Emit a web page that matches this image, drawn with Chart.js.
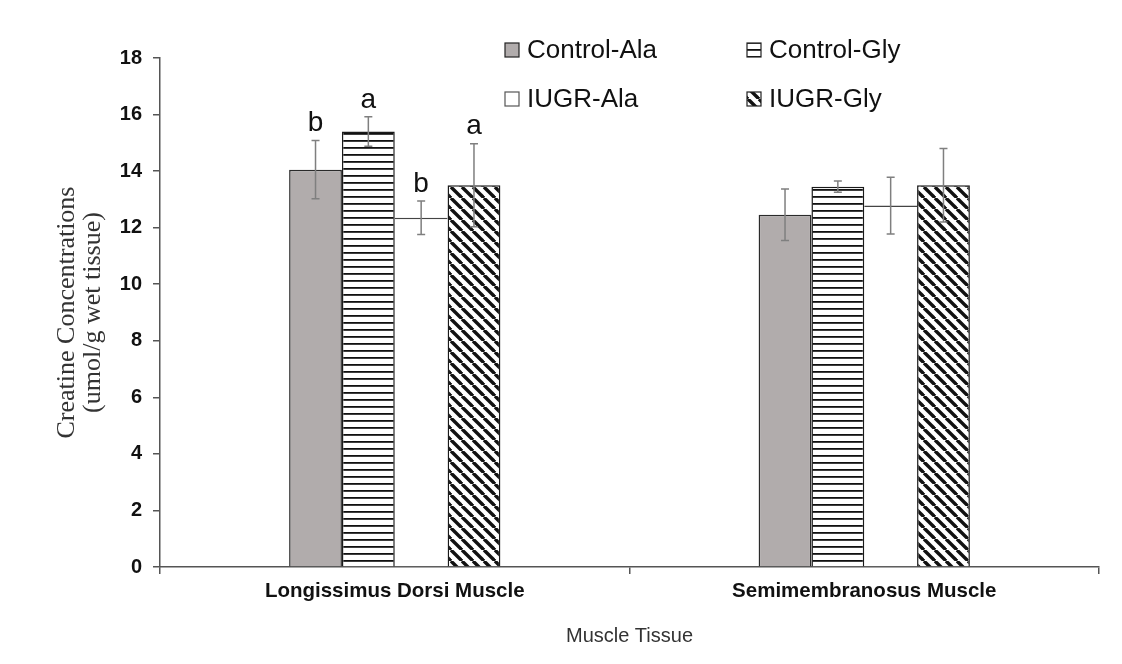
<!DOCTYPE html>
<html>
<head>
<meta charset="utf-8">
<script src="https://cdn.jsdelivr.net/npm/chart.js@4.4.0/dist/chart.umd.min.js"></script>
<style>
  body { margin: 0; background: #fff; }
  canvas { display: block; }
</style>
</head>
<body>
<canvas id="myChart" width="1122" height="664"></canvas>
<script>
const categories = ['Longissimus Dorsi Muscle', 'Semimembranosus Muscle'];
const seriesNames = ['Control-Ala', 'Control-Gly', 'IUGR-Ala', 'IUGR-Gly'];

const controlAla = [14.05, 12.46];
const controlGly = [15.40, 13.45];
const iugrAla = [12.35, 12.78];
const iugrGly = [13.50, 13.50];

const controlAlaErr = [1.03, 0.91];
const controlGlyErr = [0.52, 0.20];
const iugrAlaErr = [0.59, 1.00];
const iugrGlyErr = [1.47, 1.30];

// significance letters, only on the first muscle
const controlAlaLetters = ['b', ''];
const controlGlyLetters = ['a', ''];
const iugrAlaLetters = ['b', ''];
const iugrGlyLetters = ['a', ''];

const yMin = 0;
const yMax = 18;
const yStep = 2;

const canvas = document.getElementById('myChart');
const ctx = canvas.getContext('2d');

function hStripes() {
  const c = document.createElement('canvas');
  c.width = 8; c.height = 7;
  const g = c.getContext('2d');
  g.fillStyle = '#fff';
  g.fillRect(0, 0, 8, 7);
  g.fillStyle = '#111';
  g.fillRect(0, 0, 8, 1.8);
  return ctx.createPattern(c, 'repeat');
}

function diagStripes() {
  const p = 11;
  const c = document.createElement('canvas');
  c.width = p; c.height = p;
  const g = c.getContext('2d');
  g.fillStyle = '#fff';
  g.fillRect(0, 0, p, p);
  g.strokeStyle = '#111';
  g.lineWidth = 3.4;
  for (const x0 of [-p, 0, p]) {
    g.beginPath();
    g.moveTo(x0, 0);
    g.lineTo(x0 + p, p);
    g.stroke();
  }
  return ctx.createPattern(c, 'repeat');
}

const grayFill = '#b1acac';
const hPat = hStripes();
const dPat = diagStripes();

const errors = [controlAlaErr, controlGlyErr, iugrAlaErr, iugrGlyErr];
const letters = [controlAlaLetters, controlGlyLetters, iugrAlaLetters, iugrGlyLetters];

const data = {
  labels: categories,
  datasets: [{
    label: seriesNames[0],
    data: controlAla,
    backgroundColor: grayFill,
    borderColor: '#2a2a2a',
    borderWidth: 1.5
  }, {
    label: seriesNames[1],
    data: controlGly,
    backgroundColor: hPat,
    borderColor: '#1a1a1a',
    borderWidth: 1.5
  }, {
    label: seriesNames[2],
    data: iugrAla,
    backgroundColor: '#ffffff',
    borderColor: '#444',
    borderWidth: {top: 1.5, left: 0, right: 0, bottom: 0}
  }, {
    label: seriesNames[3],
    data: iugrGly,
    backgroundColor: dPat,
    borderColor: '#1a1a1a',
    borderWidth: 1.5
  }]
};

const extras = {
  id: 'extras',
  afterDatasetsDraw(chart) {
    const c = chart.ctx;
    const y = chart.scales.y;
    c.save();
    chart.data.datasets.forEach((ds, i) => {
      const meta = chart.getDatasetMeta(i);
      meta.data.forEach((bar, j) => {
        const v = ds.data[j];
        const e = errors[i][j];
        const top = y.getPixelForValue(v + e);
        const bot = y.getPixelForValue(v - e);
        c.strokeStyle = '#7f7f7f';
        c.lineWidth = 1.5;
        c.beginPath();
        c.moveTo(bar.x, top); c.lineTo(bar.x, bot);
        c.moveTo(bar.x - 4, top); c.lineTo(bar.x + 4, top);
        c.moveTo(bar.x - 4, bot); c.lineTo(bar.x + 4, bot);
        c.stroke();
        const t = letters[i][j];
        if (t) {
          c.fillStyle = '#111';
          c.font = '28px "Liberation Sans", Arial';
          c.textAlign = 'center';
          c.textBaseline = 'middle';
          c.fillText(t, bar.x, top - 17);
        }
      });
    });

    // legend, two columns
    const pos = [[505, 43], [747, 43], [505, 92], [747, 92]];
    const fills = [grayFill, hPat, '#ffffff', dPat];
    c.font = '26px "Liberation Sans", Arial';
    c.textAlign = 'left';
    c.textBaseline = 'middle';
    seriesNames.forEach((name, i) => {
      const [bx, by] = pos[i];
      c.fillStyle = fills[i];
      c.fillRect(bx, by, 14, 14);
      c.strokeStyle = i === 2 ? '#555' : '#222';
      c.lineWidth = 1.2;
      c.strokeRect(bx, by, 14, 14);
      c.fillStyle = '#111';
      c.fillText(name, bx + 22, by + 8);
    });
    c.restore();
  }
};

const config = {
  type: 'bar',
  data: data,
  options: {
    responsive: false,
    devicePixelRatio: 1,
    animation: false,
    layout: {
      padding: {left: 0, right: 23, top: 58, bottom: 0}
    },
    datasets: {
      bar: {
        categoryPercentage: 0.45,
        barPercentage: 1.0
      }
    },
    plugins: {
      legend: {display: false},
      tooltip: {enabled: false},
      title: {display: false}
    },
    scales: {
      x: {
        afterFit(s) { s.height = 97; },
        grid: {
          drawOnChartArea: false,
          tickLength: 7,
          color: '#555',
          lineWidth: 1.5
        },
        border: {color: '#555', width: 1.5},
        ticks: {
          color: '#111',
          padding: 5,
          font: {family: 'Liberation Sans', size: 20.5, weight: 'bold'}
        },
        title: {
          display: true,
          text: 'Muscle Tissue',
          color: '#333',
          padding: {top: 0, bottom: 16},
          font: {family: 'Liberation Sans', size: 20}
        }
      },
      y: {
        min: yMin,
        max: yMax,
        afterFit(s) { s.width = 160; },
        grid: {
          drawOnChartArea: false,
          tickLength: 7,
          color: '#555',
          lineWidth: 1.5
        },
        border: {color: '#555', width: 1.5},
        ticks: {
          stepSize: yStep,
          color: '#111',
          padding: 11,
          font: {family: 'Liberation Sans', size: 20, weight: 'bold'}
        },
        title: {
          display: true,
          text: ['Creatine Concentrations', '(umol/g wet tissue)'],
          color: '#333',
          padding: {top: 54, bottom: 0},
          font: {family: 'Liberation Serif', size: 26, lineHeight: 1.0}
        }
      }
    }
  },
  plugins: [extras]
};

const myChart = new Chart(canvas, config);
</script>
</body>
</html>
